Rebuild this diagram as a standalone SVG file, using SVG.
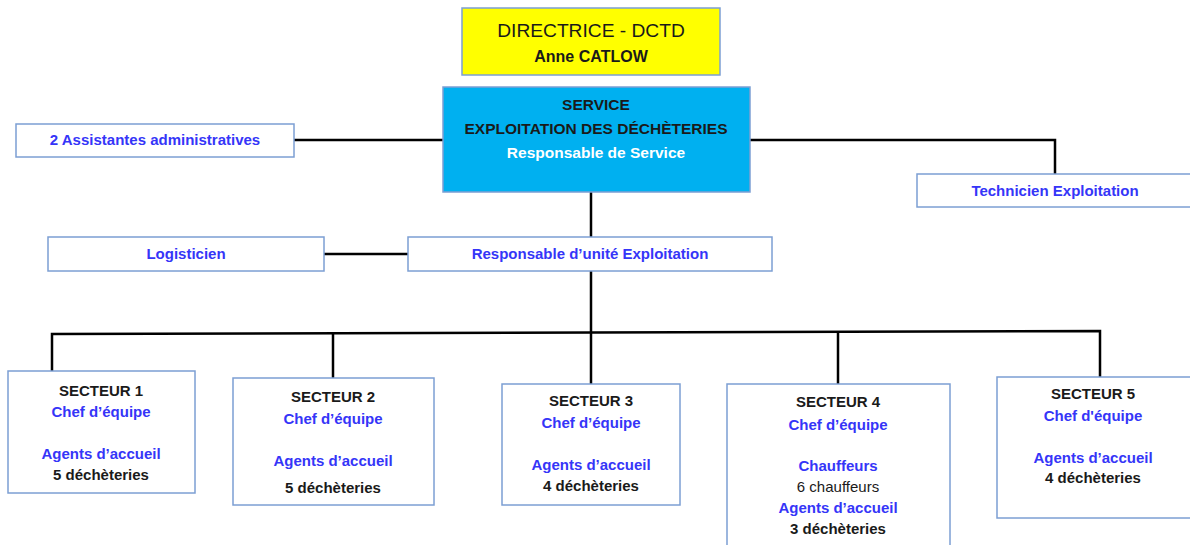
<svg xmlns="http://www.w3.org/2000/svg" width="1190" height="545" viewBox="0 0 1190 545">
<style>
.box{fill:#fff;stroke:#7C9FD3;stroke-width:1.5}
.t{font-family:"Liberation Sans",Arial,sans-serif;font-weight:bold;font-size:15px;text-anchor:middle}
.b{fill:#3535F8}
.k{fill:#1a1a1a}
.r{font-weight:normal}
.ln{fill:none;stroke:#000;stroke-width:2.5}
</style>
<rect width="1190" height="545" fill="#fff"/>
<g id="connectors">
<path class="ln" d="M294 140H443"/>
<path class="ln" d="M750 140H1055V174"/>
<path class="ln" d="M591 192V237"/>
<path class="ln" d="M324 254H408"/>
<path class="ln" d="M591 271V333"/>
<path class="ln" d="M52 371V334L1100 331V377"/>
<path class="ln" d="M333 333V378"/>
<path class="ln" d="M591 332V384"/>
<path class="ln" d="M838 332V384"/>
</g>
<g id="directrice">
<rect x="462" y="8" width="258" height="67" fill="#FFFF00" stroke="#7C9FD3" stroke-width="1.5"/>
<text class="t k r" x="591" y="37" style="font-size:19.2px">DIRECTRICE - DCTD</text>
<text class="t k" x="591" y="62" style="font-size:16px">Anne CATLOW</text>
</g>
<g id="service">
<rect x="443" y="87" width="307" height="105" fill="#00B0F0" stroke="#7C9FD3" stroke-width="1.5"/>
<text class="t k" x="596" y="110" style="font-size:15.5px">SERVICE</text>
<text class="t k" x="596" y="134" style="font-size:15.5px">EXPLOITATION DES DÉCHÈTERIES</text>
<text class="t" x="596" y="158" fill="#fff" style="font-size:15.5px">Responsable de Service</text>
</g>
<g id="assistantes">
<rect class="box" x="16" y="124" width="278" height="33"/>
<text class="t b" x="155" y="145">2 Assistantes administratives</text>
</g>
<g id="technicien">
<rect class="box" x="917" y="174" width="280" height="33"/>
<text class="t b" x="1055" y="196">Technicien Exploitation</text>
</g>
<g id="logisticien">
<rect class="box" x="48" y="237" width="276" height="34"/>
<text class="t b" x="186" y="259">Logisticien</text>
</g>
<g id="responsable-unite">
<rect class="box" x="408" y="237" width="364" height="34"/>
<text class="t b" x="590" y="259">Responsable d’unité Exploitation</text>
</g>
<g id="secteur1">
<rect class="box" x="8" y="371" width="187" height="122"/>
<text class="t k" x="101" y="396">SECTEUR 1</text>
<text class="t b" x="101" y="417">Chef d’équipe</text>
<text class="t b" x="101" y="459">Agents d’accueil</text>
<text class="t k" x="101" y="480">5 déchèteries</text>
</g>
<g id="secteur2">
<rect class="box" x="233" y="378" width="201" height="127"/>
<text class="t k" x="333" y="402">SECTEUR 2</text>
<text class="t b" x="333" y="424">Chef d’équipe</text>
<text class="t b" x="333" y="466">Agents d’accueil</text>
<text class="t k" x="333" y="493">5 déchèteries</text>
</g>
<g id="secteur3">
<rect class="box" x="502" y="384" width="178" height="121"/>
<text class="t k" x="591" y="406">SECTEUR 3</text>
<text class="t b" x="591" y="428">Chef d’équipe</text>
<text class="t b" x="591" y="470">Agents d’accueil</text>
<text class="t k" x="591" y="491">4 déchèteries</text>
</g>
<g id="secteur4">
<rect class="box" x="727" y="384" width="223" height="170"/>
<text class="t k" x="838" y="407">SECTEUR 4</text>
<text class="t b" x="838" y="430">Chef d’équipe</text>
<text class="t b" x="838" y="471">Chauffeurs</text>
<text class="t k r" x="838" y="492">6 chauffeurs</text>
<text class="t b" x="838" y="513">Agents d’accueil</text>
<text class="t k" x="838" y="534">3 déchèteries</text>
</g>
<g id="secteur5">
<rect class="box" x="997" y="377" width="200" height="141"/>
<text class="t k" x="1093" y="399">SECTEUR 5</text>
<text class="t b" x="1093" y="421">Chef d'équipe</text>
<text class="t b" x="1093" y="463">Agents d’accueil</text>
<text class="t k" x="1093" y="483">4 déchèteries</text>
</g>
</svg>
